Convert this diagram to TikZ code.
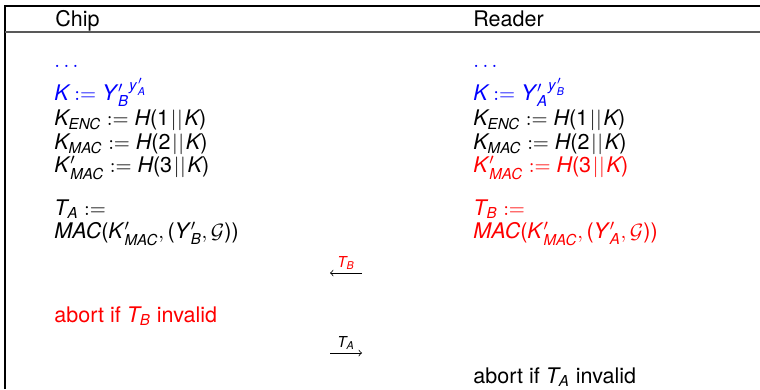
\documentclass[tikz,border=0pt]{standalone}
\usepackage{amsmath}
\usepackage[no-math]{fontspec}
\setmainfont{TeX Gyre Heros}
\usetikzlibrary{positioning, arrows.meta}

\newcommand{\mv}[1]{\text{\itshape #1}}
\newcommand{\up}[1]{\text{\upshape #1}}
\newcommand{\pr}{\mkern1.5mu'}
\newcommand{\cat}{\mkern1.5mu|\mkern0.5mu|\mkern1.5mu}

\begin{document}
\begin{tikzpicture}[
    x=0.53pt, y=-0.53pt,
    font=\fontsize{11.4}{14}\selectfont,
    >=to,
    line/.style={anchor=base west, inner sep=0pt},
    keyline/.style={line, text=blue},
    tagline/.style={line, text=red},
    msg/.style={->, line width=0.4pt},
    lbl/.style={above, inner sep=1.5pt}
  ]
  \useasboundingbox (0,0) rectangle (760,389);

  % Rahmen und Kopfzeile
  \draw[line width=0.6pt] (5,389) -- (5,6) -- (760,6);
  \draw[gray!70!black, line width=1pt] (5,32) -- (760,32);
  \node[line] (chiphead) at (55,26) {Chip};
  \node[line] (readerhead) at (473,26) {Reader};

  % Chip-Seite
  \node[keyline] (chipdots) at (54,67) {$\ldots$};
  \node[keyline] (chipkey) at (54,100) {$\mv{K} := {\mv{Y}\pr_{\mv{B}}}^{\mv{y}\pr_{\mv{A}}}$};
  \node[line] (chipenc) at (54,125) {$\mv{K}_{\mv{ENC}} := \mv{H}\up{(1}\cat\mv{K}\up{)}$};
  \node[line] (chipmac) at (54,149) {$\mv{K}_{\mv{MAC}} := \mv{H}\up{(2}\cat\mv{K}\up{)}$};
  \node[line] (chipmacp) at (54,172) {$\mv{K}\pr_{\mv{MAC}} := \mv{H}\up{(3}\cat\mv{K}\up{)}$};
  \node[line] (chiptag) at (54,215) {$\mv{T}_{\mv{A}} :=$};
  \node[line] (chiptagmac) at (54,238) {$\mv{MAC}\up{(}\mv{K}\pr_{\mv{MAC}}, \up{(}\mv{Y}\pr_{\mv{B}},\mathcal{G}\up{))}$};
  \node[tagline] (chipabort) at (54,322) {abort if $\mv{T}_{\mv{B}}$ invalid};

  % Reader-Seite
  \node[keyline] (readerdots) at (473,67) {$\ldots$};
  \node[keyline] (readerkey) at (473,100) {$\mv{K} := {\mv{Y}\pr_{\mv{A}}}^{\mv{y}\pr_{\mv{B}}}$};
  \node[line] (readerenc) at (473,125) {$\mv{K}_{\mv{ENC}} := \mv{H}\up{(1}\cat\mv{K}\up{)}$};
  \node[line] (readermac) at (473,149) {$\mv{K}_{\mv{MAC}} := \mv{H}\up{(2}\cat\mv{K}\up{)}$};
  \node[tagline] (readermacp) at (473,172) {$\mv{K}\pr_{\mv{MAC}} := \mv{H}\up{(3}\cat\mv{K}\up{)}$};
  \node[tagline] (readertag) at (473,215) {$\mv{T}_{\mv{B}} :=$};
  \node[tagline] (readertagmac) at (473,238) {$\mv{MAC}\up{(}\mv{K}\pr_{\mv{MAC}}, \up{(}\mv{Y}\pr_{\mv{A}},\mathcal{G}\up{))}$};
  \node[line] (readerabort) at (473,383) {abort if $\mv{T}_{\mv{A}}$ invalid};

  % Nachrichten
  \coordinate (tbfrom) at (362,273);
  \coordinate (tbto) at (330,273);
  \coordinate (tafrom) at (330,353);
  \coordinate (tato) at (362,353);
  \draw[msg] (tbfrom) -- node[lbl, text=red] {$\scriptstyle\mv{T}_{\mv{B}}$} (tbto);
  \draw[msg] (tafrom) -- node[lbl] {$\scriptstyle\mv{T}_{\mv{A}}$} (tato);
\end{tikzpicture}
\end{document}
